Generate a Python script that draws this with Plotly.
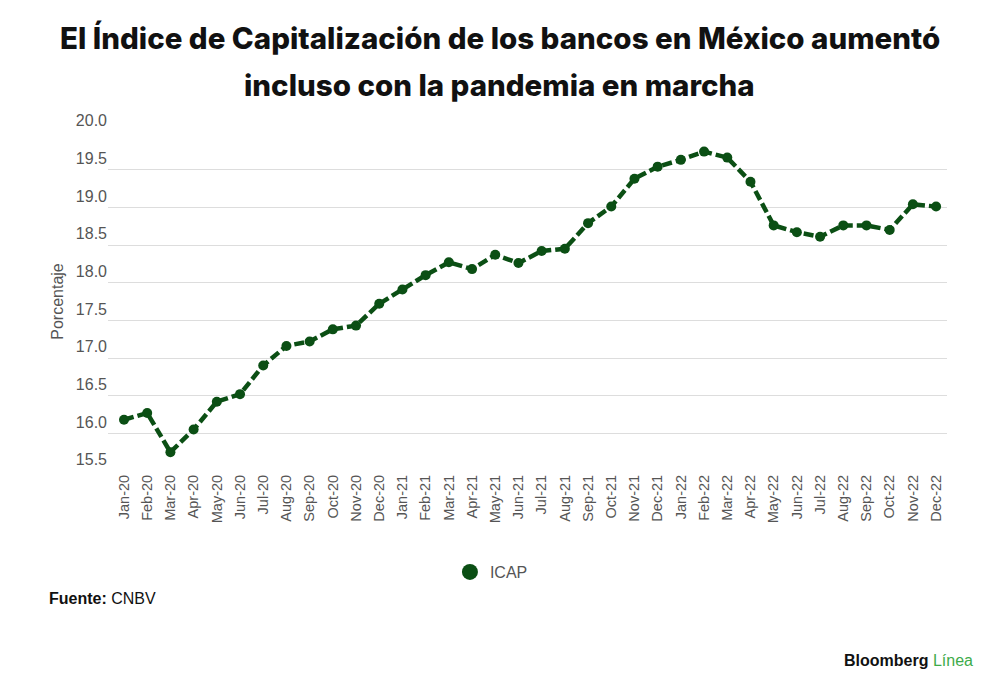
import plotly.graph_objects as go

months = ["Jan-20","Feb-20","Mar-20","Apr-20","May-20","Jun-20","Jul-20","Aug-20","Sep-20","Oct-20","Nov-20","Dec-20",
          "Jan-21","Feb-21","Mar-21","Apr-21","May-21","Jun-21","Jul-21","Aug-21","Sep-21","Oct-21","Nov-21","Dec-21",
          "Jan-22","Feb-22","Mar-22","Apr-22","May-22","Jun-22","Jul-22","Aug-22","Sep-22","Oct-22","Nov-22","Dec-22"]
icap = [16.18, 16.27, 15.75, 16.05, 16.42, 16.52, 16.90, 17.16, 17.22, 17.38, 17.43, 17.72,
        17.91, 18.10, 18.27, 18.18, 18.37, 18.26, 18.42, 18.45, 18.79, 19.01, 19.38, 19.54,
        19.63, 19.74, 19.66, 19.34, 18.76, 18.67, 18.61, 18.76, 18.76, 18.70, 19.04, 19.01]
y_ticks = [15.5, 16.0, 16.5, 17.0, 17.5, 18.0, 18.5, 19.0, 19.5, 20.0]

GREEN = "#0b4f14"

fig = go.Figure()
fig.add_trace(go.Scatter(
    x=months, y=icap, mode="lines+markers", name="ICAP", showlegend=False,
    line=dict(color=GREEN, width=4.5, dash="10px,4px"),
    marker=dict(color=GREEN, size=10),
))
fig.add_trace(go.Scatter(
    x=[None], y=[None], mode="markers", name="ICAP", showlegend=True,
    marker=dict(color=GREEN, size=18),
))

fig.update_layout(
    width=1000, height=698,
    margin=dict(l=100, r=61, t=124, b=235),
    paper_bgcolor="white", plot_bgcolor="white",
    font=dict(family="Liberation Sans, Arial", color="#555555"),
    showlegend=True,
    legend=dict(orientation="h", x=0.457, xanchor="center", y=-0.298, yanchor="middle",
                font=dict(size=16, color="#555555"), itemsizing="trace"),
    xaxis=dict(
        type="category", range=[-0.69, 35.47], tickangle=-90,
        tickfont=dict(size=14.5, color="#555555"), showgrid=False,
        showline=False, ticks="", fixedrange=True,
    ),
    yaxis=dict(
        range=[15.5, 20.0], tickvals=y_ticks, ticktext=[f"{v:.1f}" for v in y_ticks],
        ticklabelposition="outside top", tickfont=dict(size=16, color="#555555"),
        gridcolor="#dddddd", gridwidth=1, zeroline=False, showline=False,
        title=dict(text="Porcentaje", font=dict(size=16, color="#555555"), standoff=8),
    ),
    annotations=[
        dict(text="El Índice de Capitalización de los bancos en México aumentó", xref="paper", yref="paper",
             x=0.467, y=1.277, xanchor="center", yanchor="middle", showarrow=False,
             font=dict(family="Inter", size=29.5, color="#111111", weight=800)),
        dict(text="incluso con la pandemia en marcha", xref="paper", yref="paper",
             x=0.467, y=1.139, xanchor="center", yanchor="middle", showarrow=False,
             font=dict(family="Inter", size=29.5, color="#111111", weight=800)),
        dict(text="<b>Fuente:</b> CNBV", xref="paper", yref="paper",
             x=-0.0727, y=-0.375, xanchor="left", yanchor="middle", showarrow=False,
             font=dict(family="Liberation Sans", size=16, color="#111111")),
        dict(text="<b>Bloomberg</b> <span style='color:#3dab4a'>Línea</span>", xref="paper", yref="paper",
             x=1.0334, y=-0.560, xanchor="right", yanchor="middle", showarrow=False,
             font=dict(family="Liberation Sans", size=16, color="#111111")),
    ],
)

fig.write_html("out.html")
